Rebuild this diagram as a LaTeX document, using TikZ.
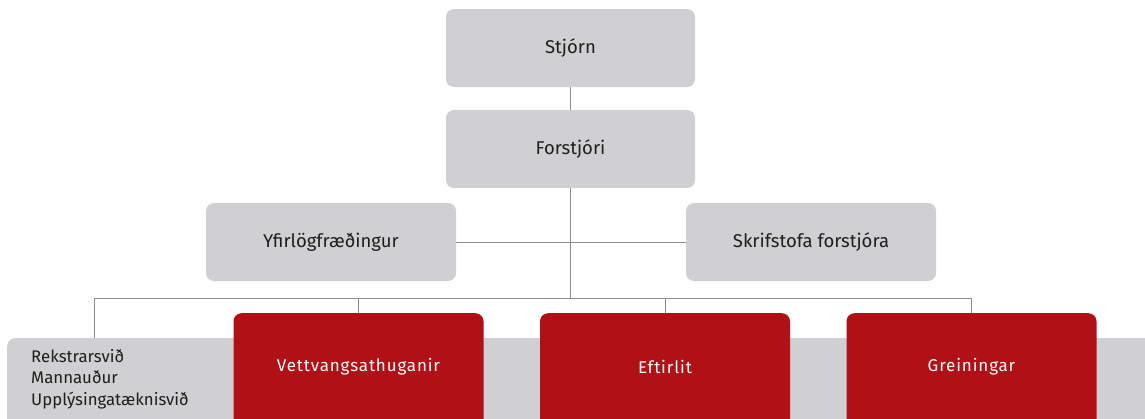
\documentclass[tikz,border=0pt]{standalone}
\usepackage{fontspec}
\setmainfont{Fira Sans}
\newfontfamily\spacedfont[LetterSpace=5]{Fira Sans}
\definecolor{boxgray}{RGB}{208,208,210}
\definecolor{boxred}{RGB}{176,17,22}
\definecolor{linegray}{RGB}{140,140,140}
\definecolor{txt}{RGB}{30,30,30}
\begin{document}
\begin{tikzpicture}[x=1pt,y=-1pt,
  gbox/.style={fill=boxgray,rounded corners=8pt,minimum width=249pt,minimum height=78pt,inner sep=0pt,text=txt,font=\fontsize{18.5}{22}\selectfont},
  rbox/.style={fill=boxred,rounded corners=8pt,minimum width=250pt,minimum height=120pt,inner sep=0pt},
  rtext/.style={text=white,font=\spacedfont\fontsize{17}{20}\selectfont,inner sep=0pt},
  conn/.style={draw=linegray,line width=0.9pt}]
\useasboundingbox (0,0) rectangle (1145,418);
\clip (0,0) rectangle (1145,418);
% band
\node[fill=boxgray,rounded corners=8pt,minimum width=1160pt,minimum height=100pt,inner sep=0pt,anchor=north west] (band) at (7,338) {};
\node[anchor=west,align=left,text=txt,font=\fontsize{16.8}{21.7}\selectfont,inner sep=0pt] (bandtext) at (31,379) {Rekstrarsvið\\Mannauður\\Upplýsingatæknisvið};
% boxes
\node[gbox] (stjorn) at (570.5,48) {Stjórn};
\node[gbox] (forstjori) at (570.5,149) {Forstjóri};
\node[gbox,minimum width=250pt] (yfir) at (331,242) {Yfirlögfræðingur};
\node[gbox,minimum width=250pt] (skrif) at (811,242) {Skrifstofa forstjóra};
\node[rbox,anchor=north] (vett) at (358.5,313) {};
\node[rbox,anchor=north] (eft) at (665,313) {};
\node[rbox,anchor=north] (grein) at (971.5,313) {};
\node[rtext] (vettt) at (358.5,367) {Vettvangsathuganir};
\node[rtext] (eftt) at (665,367) {Eftirlit};
\node[rtext] (greint) at (971.5,367) {Greiningar};
% connectors
\coordinate (busC) at (570.5,298);
\coordinate (busL) at (94,298);
\coordinate (busR) at (971.5,298);
\draw[conn] (stjorn) -- (forstjori);
\draw[conn] (forstjori) -- (busC);
\draw[conn] (yfir.east) -- (skrif.west);
\draw[conn] (busL) -- (busR);
\draw[conn] (busL) -- (busL |- band.north);
\draw[conn] (vett.north |- busL) -- (vett.north);
\draw[conn] (eft.north |- busL) -- (eft.north);
\draw[conn] (grein.north |- busL) -- (grein.north);
\end{tikzpicture}
\end{document}
